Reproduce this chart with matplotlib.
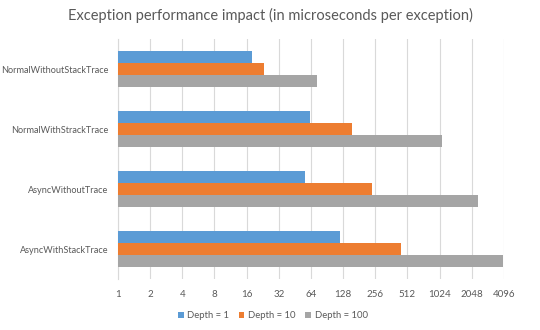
import numpy as np
import matplotlib
matplotlib.use("Agg")
import matplotlib.pyplot as plt
from matplotlib.ticker import FixedLocator, FixedFormatter, NullLocator

categories = ["NormalWithoutStackTrace", "NormalWithStrackTrace", "AsyncWithoutTrace", "AsyncWithStackTrace"]
depth_1 = [17.9, 62, 56, 120]
depth_10 = [23.5, 156, 238, 442]
depth_100 = [73.5, 1075, 2320, 4050]
series_names = ["Depth = 1", "Depth = 10", "Depth = 100"]
tick_values = [1, 2, 4, 8, 16, 32, 64, 128, 256, 512, 1024, 2048, 4096]

colors = ["#5B9BD5", "#ED7D31", "#A5A5A5"]
text_color = "#595959"

plt.rcParams['font.family'] = ['Lato', 'DejaVu Sans']

fig = plt.figure(figsize=(5.4, 3.3), dpi=100)
ax = fig.add_axes([0.2185, 0.1545, 0.7148, 0.7273])

y = np.arange(len(categories))
h = 0.205
for i, (vals, name) in enumerate(zip([depth_1, depth_10, depth_100], series_names)):
    ax.barh(y + (i - 1) * h, vals, height=h, color=colors[i], label=name, zorder=3)

ax.set_xscale("log", base=2)
ax.set_xlim(1, 4096)
ax.set_ylim(len(categories) - 0.5, -0.5)
ax.xaxis.set_major_locator(FixedLocator(tick_values))
ax.xaxis.set_major_formatter(FixedFormatter([str(v) for v in tick_values]))
ax.xaxis.set_minor_locator(NullLocator())
ax.set_yticks(y)
ax.set_yticklabels(categories)

ax.grid(axis="x", color="#D9D9D9", linewidth=0.8, zorder=0)
for s in ["top", "right", "bottom"]:
    ax.spines[s].set_visible(False)
ax.spines["left"].set_color("#D9D9D9")
ax.tick_params(axis="y", length=0, labelsize=6.6, colors=text_color, pad=7)
ax.tick_params(axis="x", length=0, labelsize=7, colors=text_color, pad=8)

fig.suptitle("Exception performance impact (in microseconds per exception)",
             fontsize=10.5, color=text_color, y=0.975)

fig.legend(loc="lower center", ncol=3, bbox_to_anchor=(0.505, 0.005), frameon=False,
           fontsize=6.8, labelcolor=text_color, handlelength=0.6, handleheight=0.6,
           columnspacing=1.0, handletextpad=0.4)

fig.savefig("out.png", dpi=100, facecolor="white")
